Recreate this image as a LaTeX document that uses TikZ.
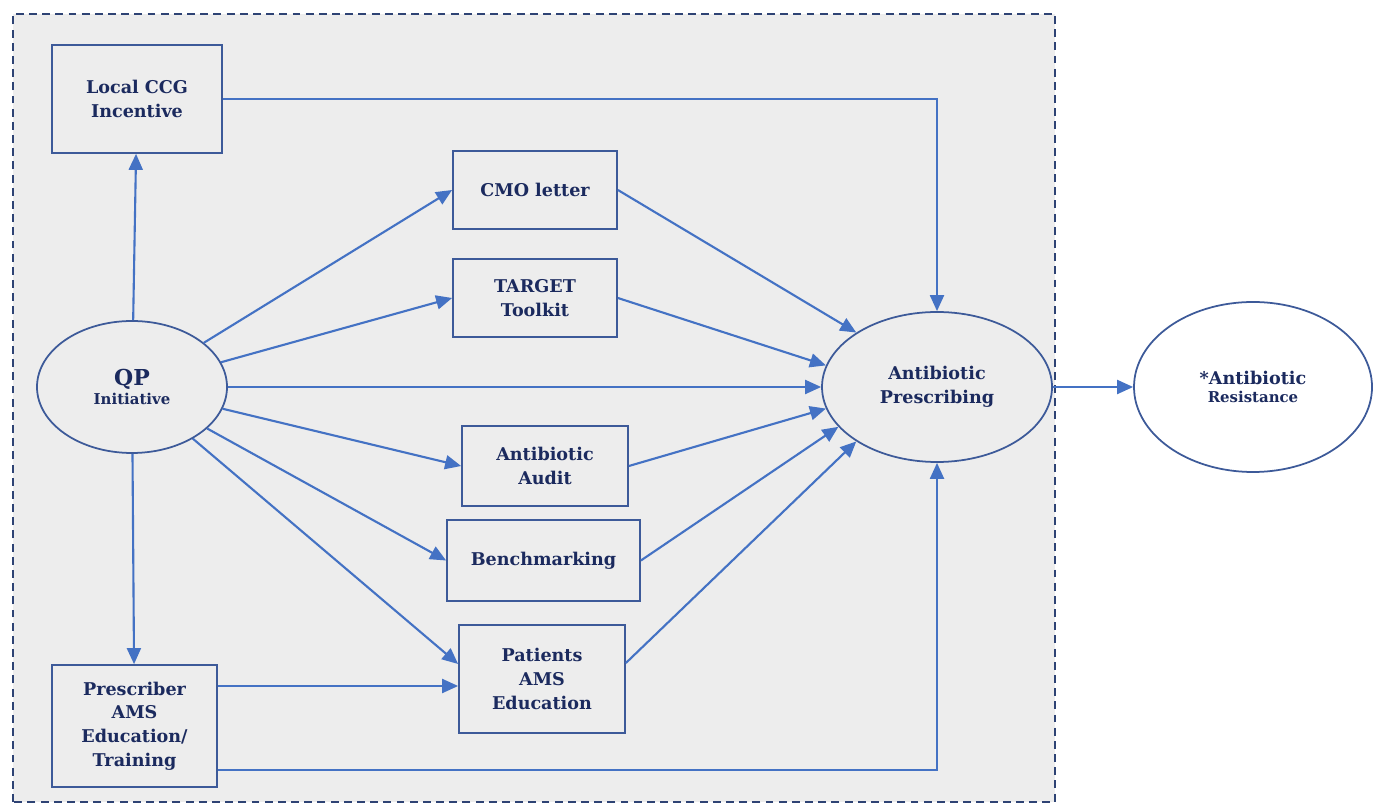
\documentclass[tikz,border=0pt]{standalone}
\usepackage{fontspec}
\setmainfont{DejaVu Serif}
\usepackage{tikz}
\usetikzlibrary{positioning,arrows.meta,calc,shapes.geometric}
\definecolor{linkblue}{HTML}{4472C4}
\definecolor{framenavy}{HTML}{2E4374}
\definecolor{textnavy}{HTML}{1B2A5E}
\definecolor{boxedge}{HTML}{3D5A99}
\definecolor{panelgray}{HTML}{EDEDED}
\tikzset{
  box/.style={draw=boxedge, line width=1pt, align=center, text=textnavy, inner sep=0pt,
    font=\bfseries\fontsize{10}{13.5}\selectfont},
  oval/.style={box, ellipse},
  arr/.style={draw=linkblue, line width=1.2pt, -{Triangle[length=3.2mm,width=2.8mm]}}
}

\begin{document}
\begin{tikzpicture}
            \useasboundingbox (0,0) rectangle (27.46,16.08);
            % dashed grey panel round the interventions
            \draw [framenavy, line width=0.9pt, dash pattern=on 4.5pt off 3pt, fill=panelgray] (0.26,0.04) rectangle (21.10,15.80);

            \node [box, minimum width=3.4cm, minimum height=2.16cm] (ccg) at (2.74,14.10) {Local CCG\\Incentive};
            \node [box, minimum width=3.28cm, minimum height=1.56cm] (cmo) at (10.70,12.28) {CMO letter};
            \node [box, minimum width=3.28cm, minimum height=1.56cm] (target) at (10.70,10.12) {TARGET\\Toolkit};
            \node [oval, minimum width=3.8cm, minimum height=2.64cm] (qp) at (2.64,8.34)
                {{\fontsize{12.5}{14}\selectfont QP}\\[-3pt]{\fontsize{8.5}{10}\selectfont Initiative}};
            \node [oval, minimum width=4.6cm, minimum height=3cm] (presc) at (18.74,8.34) {Antibiotic\\Prescribing};
            \node [oval, fill=white, minimum width=4.76cm, minimum height=3.4cm] (resist) at (25.06,8.34)
                {*Antibiotic\\[-3pt]{\fontsize{8.5}{10}\selectfont Resistance}};
            \node [box, minimum width=3.32cm, minimum height=1.6cm] (audit) at (10.90,6.76) {Antibiotic\\Audit};
            \node [box, minimum width=3.86cm, minimum height=1.62cm] (bench) at (10.87,4.87) {Benchmarking};
            \node [box, minimum width=3.32cm, minimum height=2.16cm] (patients) at (10.84,2.50) {Patients\\AMS\\Education};
            \node [box, minimum width=3.3cm, minimum height=2.44cm] (prescriber) at (2.69,1.56) {Prescriber\\AMS\\Education/\\Training};

            % arrows out of the QP initiative
            \draw [arr] (qp) -- (ccg);
            \draw [arr] (qp) -- (cmo.west);
            \draw [arr] (qp) -- (target.west);
            \draw [arr] (qp) -- (presc);
            \draw [arr] (qp) -- (audit.west);
            \draw [arr] (qp) -- (bench.west);
            \draw [arr] (qp) -- ($(patients.west)+(0,0.30)$);
            \draw [arr] (qp) -- (prescriber);

            % arrows into antibiotic prescribing
            \draw [arr] (ccg.east) -| (presc.north);
            \draw [arr] (cmo.east) -- (presc.146);
            \draw [arr] (target.east) -- (presc.169);
            \draw [arr] (audit.east) -- (presc.191);
            \draw [arr] (bench.east) -- (presc.202);
            \draw [arr] ($(patients.east)+(0,0.32)$) -- (presc.214);
            \draw [arr] ($(prescriber.east)+(0,-0.88)$) -| (presc.south);
            \draw [arr] ($(prescriber.east)+(0,0.80)$) coordinate (pe) -- (pe -| patients.west);

            \draw [arr] (presc) -- (resist);
\end{tikzpicture}
\end{document}
